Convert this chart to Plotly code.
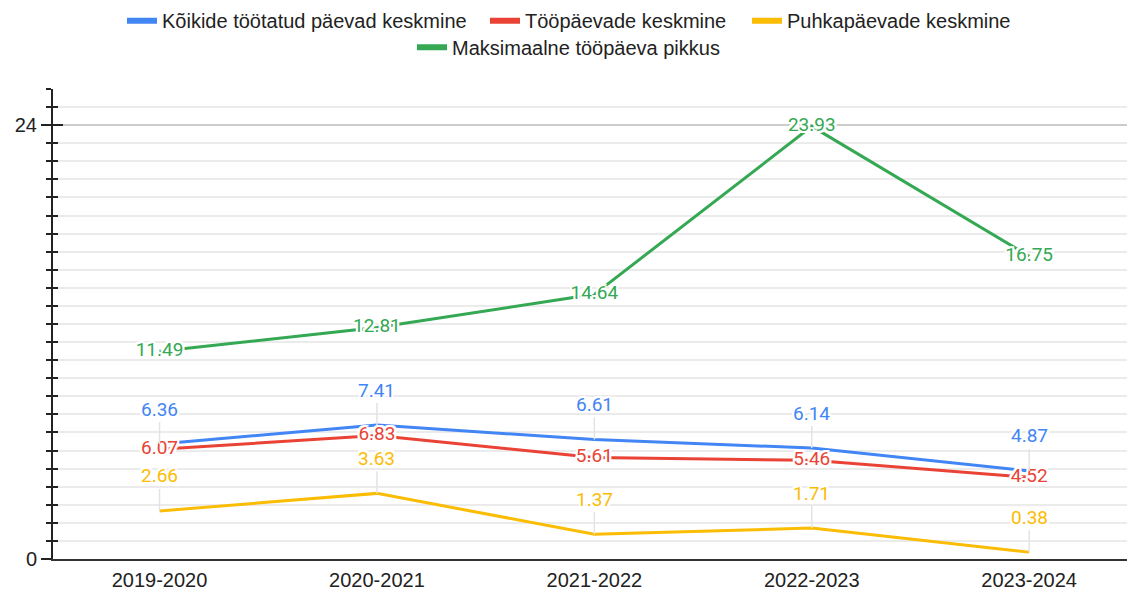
import plotly.graph_objects as go

years = ["2019-2020", "2020-2021", "2021-2022", "2022-2023", "2023-2024"]
koik = [6.36, 7.41, 6.61, 6.14, 4.87]
toopaev = [6.07, 6.83, 5.61, 5.46, 4.52]
puhkus = [2.66, 3.63, 1.37, 1.71, 0.38]
maks = [11.49, 12.81, 14.64, 23.93, 16.75]

names = ["Kõikide töötatud päevad keskmine", "Tööpäevade keskmine",
         "Puhkapäevade keskmine", "Maksimaalne tööpäeva pikkus"]
colors = ["#4285F4", "#EA4335", "#FBBC04", "#34A853"]
series = [koik, toopaev, puhkus, maks]

W, H = 1127, 590
# one legend per entry so the two rows can be placed like the original
legend_pos = [(122, 0.998), (485, 0.998), (747, 0.998), (412, 0.953)]

fig = go.Figure()
for vals, col in zip(series, colors):
    fig.add_trace(go.Scatter(x=years, y=vals, mode="lines", showlegend=False,
                             line=dict(color=col, width=3), hoverinfo="skip"))

halo = ", ".join(f"{dx}px {dy}px 0 white" for dx, dy in
                 [(-2, -2), (2, -2), (-2, 2), (2, 2), (0, 2), (0, -2), (2, 0), (-2, 0)])
# labels sitting on the line (red, green)
for vals, col in [(toopaev, colors[1]), (maks, colors[3])]:
    fig.add_trace(go.Scatter(x=years, y=vals, mode="text", showlegend=False,
                             text=[f"{v:.2f}" for v in vals], textposition="middle center",
                             textfont=dict(family="Roboto", size=19, color=col, shadow=halo),
                             hoverinfo="skip"))

# labels raised above the point with a stem (blue, yellow)
for vals, col in [(koik, colors[0]), (puhkus, colors[2])]:
    for yr, v in zip(years, vals):
        fig.add_annotation(x=yr, y=v, text=f"{v:.2f}", showarrow=True, ax=0, ay=-35,
                           arrowhead=0, arrowwidth=1.5, arrowcolor="#e3e3e3", standoff=0,
                           font=dict(family="Roboto", size=19, color=col, shadow=halo))

# legend-only entries
legend_layout = {}
for i, (name, col) in enumerate(zip(names, colors)):
    key = "legend" if i == 0 else f"legend{i + 1}"
    fig.add_trace(go.Scatter(x=[None], y=[None], mode="lines", name=name, legend=key,
                             line=dict(color=col, width=6)))
    px_x, y = legend_pos[i]
    legend_layout[key] = dict(orientation="h", xref="container", yref="container",
                              x=px_x / W, y=y, xanchor="left", yanchor="top",
                              font=dict(size=20), itemwidth=30, bgcolor="rgba(0,0,0,0)")

# second axis only to draw the inner half of the crossing ticks
fig.add_trace(go.Scatter(x=[years[0]], y=[0], yaxis="y2", mode="markers",
                         marker=dict(opacity=0), showlegend=False, hoverinfo="skip"))

fig.update_layout(
    width=W, height=H,
    margin=dict(l=53, r=0, t=89, b=31),
    paper_bgcolor="white", plot_bgcolor="white",
    font=dict(family="Liberation Sans, Arial", size=20, color="#222222"),
    xaxis=dict(range=[-0.49, 4.45], showgrid=False, showline=True, linecolor="#333333",
               linewidth=2, ticks="", tickfont=dict(size=20), ticklabelstandoff=2),
    yaxis=dict(range=[0, 26], tick0=0, dtick=24, showgrid=True, gridcolor="#cccccc",
               gridwidth=1.5, zeroline=False, showline=True, linecolor="#222222", linewidth=2,
               ticks="outside", ticklen=10, tickwidth=1.5, tickcolor="#222222",
               tickfont=dict(size=20),
               minor=dict(dtick=1, tick0=0, showgrid=True, gridcolor="#ebebeb", gridwidth=1.5,
                          ticks="outside", ticklen=5, tickwidth=1.5, tickcolor="#222222")),
    yaxis2=dict(range=[0, 26], overlaying="y", anchor="x", side="left", tick0=0, dtick=24,
                showgrid=False, zeroline=False, showticklabels=False, showline=False,
                ticks="inside", ticklen=10, tickwidth=1.5, tickcolor="#222222",
                minor=dict(dtick=1, tick0=0, showgrid=False, ticks="inside", ticklen=5,
                           tickwidth=1.5, tickcolor="#222222")),
    **legend_layout,
)

fig.write_html("out.html", config={"displayModeBar": False},
               post_script="document.body.style.margin='0';"
                           "document.body.style.overflow='hidden';"
                           "document.documentElement.style.overflow='hidden';")
